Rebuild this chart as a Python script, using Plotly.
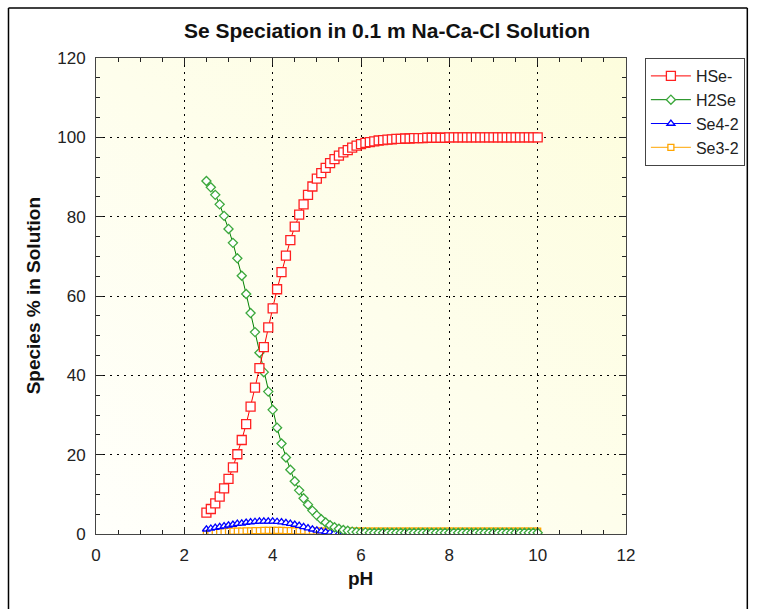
import plotly.graph_objects as go
import base64

ph = [2.5, 2.6, 2.7, 2.8, 2.9, 3.0, 3.1, 3.2, 3.3, 3.4, 3.5, 3.6, 3.7, 3.8, 3.9,
      4.0, 4.1, 4.2, 4.3, 4.4, 4.5, 4.6, 4.7, 4.8, 4.9, 5.0, 5.1, 5.2, 5.3, 5.4,
      5.5, 5.6, 5.7, 5.8, 5.9, 6.0, 6.1, 6.2, 6.3, 6.4, 6.5, 6.6, 6.7, 6.8, 6.9,
      7.0, 7.1, 7.2, 7.3, 7.4, 7.5, 7.6, 7.7, 7.8, 7.9, 8.0, 8.1, 8.2, 8.3, 8.4,
      8.5, 8.6, 8.7, 8.8, 8.9, 9.0, 9.1, 9.2, 9.3, 9.4, 9.5, 9.6, 9.7, 9.8, 9.9, 10.0]

hse = [5.4, 6.3, 7.7, 9.4, 11.5, 13.9, 16.8, 20.1, 23.7, 27.7, 32.1, 36.9, 41.8, 47.1, 52.1,
       56.9, 61.7, 66.0, 70.2, 74.1, 77.5, 80.5, 83.1, 85.5, 87.6, 89.6, 91.0, 92.3, 93.5, 94.5,
       95.4, 96.2, 96.8, 97.4, 97.9, 98.3, 98.6, 98.8, 99.0, 99.2, 99.3, 99.4, 99.5, 99.6, 99.6,
       99.7, 99.7, 99.8, 99.8, 99.8, 99.9, 99.9, 99.9, 99.9, 99.9, 100.0, 100.0, 100.0, 100.0, 100.0,
       100.0, 100.0, 100.0, 100.0, 100.0, 100.0, 100.0, 100.0, 100.0, 100.0, 100.0, 100.0, 100.0, 100.0, 100.0, 100.0]

h2se = [89.0, 87.4, 85.5, 83.1, 80.2, 76.9, 73.4, 69.5, 65.1, 60.5, 55.7, 50.9, 45.7, 40.8, 35.9,
        31.3, 26.8, 22.8, 19.3, 16.2, 13.3, 11.0, 9.0, 7.4, 5.9, 4.7, 3.7, 2.9, 2.2, 1.7,
        1.3, 1.0, 0.8, 0.6, 0.5, 0.4, 0.4, 0.3, 0.3, 0.3, 0.3, 0.3, 0.3, 0.3, 0.3,
        0.3, 0.3, 0.3, 0.3, 0.3, 0.3, 0.3, 0.3, 0.3, 0.3, 0.3, 0.3, 0.3, 0.3, 0.3,
        0.3, 0.3, 0.3, 0.3, 0.3, 0.3, 0.3, 0.3, 0.3, 0.3, 0.3, 0.3, 0.3, 0.3, 0.3, 0.3]

se4 = [1.2, 1.4, 1.6, 1.8, 2.0, 2.2, 2.4, 2.6, 2.7, 2.9, 3.0, 3.1, 3.2, 3.2, 3.2,
       3.2, 3.1, 3.0, 2.8, 2.6, 2.4, 2.1, 1.8, 1.5, 1.2, 0.9, 0.7, 0.5, 0.4, 0.3,
       0.2, 0.1, 0.1, 0.1, 0.1, 0.1, 0.1, 0.1, 0.1, 0.1, 0.1, 0.1, 0.1, 0.1, 0.1,
       0.1, 0.1, 0.1, 0.1, 0.1, 0.1, 0.1, 0.1, 0.1, 0.1, 0.1, 0.1, 0.1, 0.1, 0.1,
       0.1, 0.1, 0.1, 0.1, 0.1, 0.1, 0.1, 0.1, 0.1, 0.1, 0.1, 0.1, 0.1, 0.1, 0.1, 0.1]

se3 = [0.4, 0.45, 0.5, 0.55, 0.6, 0.65, 0.7, 0.7, 0.75, 0.8, 0.8, 0.85, 0.85, 0.9, 0.9,
       0.9, 0.9, 0.9, 0.85, 0.85, 0.8, 0.8, 0.8, 0.75, 0.75, 0.7, 0.7, 0.7, 0.7, 0.7,
       0.7, 0.7, 0.7, 0.7, 0.7, 0.7, 0.7, 0.7, 0.7, 0.7, 0.7, 0.7, 0.7, 0.7, 0.7,
       0.7, 0.7, 0.7, 0.7, 0.7, 0.7, 0.7, 0.7, 0.7, 0.7, 0.7, 0.7, 0.7, 0.7, 0.7,
       0.7, 0.7, 0.7, 0.7, 0.7, 0.7, 0.7, 0.7, 0.7, 0.7, 0.7, 0.7, 0.7, 0.7, 0.7, 0.7]

x_range = [0, 12]
y_range = [0, 120]

W, H = 757, 609
L, R, T, B = 96, 629, 58, 534
pw, ph_ = R - L, B - T


def px(xp):
    return (xp - L) / pw


def py(yp):
    return (B - yp) / ph_


# gradient background as an SVG image below the grid
svg = ('<svg xmlns="http://www.w3.org/2000/svg" width="100" height="100" '
       'preserveAspectRatio="none" viewBox="0 0 100 100">'
       '<defs><linearGradient id="g" x1="0" y1="1" x2="1" y2="0">'
       '<stop offset="0" stop-color="#FFFFFB"/>'
       '<stop offset="1" stop-color="#FDFDDD"/>'
       '</linearGradient></defs>'
       '<rect x="0" y="0" width="100" height="100" fill="url(#g)"/></svg>')
bg_uri = "data:image/svg+xml;base64," + base64.b64encode(svg.encode()).decode()

fig = go.Figure()

series = [
    ("Se3-2", se3, "#FFA500", "#FFA500", "square", 6),
    ("Se4-2", se4, "#0000FF", "#0000FF", "triangle-up", 7),
    ("H2Se", h2se, "#008000", "#3CA83C", "diamond", 7),
    ("HSe-", hse, "#FF0000", "#FF2020", "square", 9),
]
for name, ys, lc, mc, sym, sz in series:
    fig.add_trace(go.Scatter(
        x=ph, y=ys, name=name, mode="lines+markers",
        line=dict(color=lc, width=1),
        marker=dict(symbol=sym, size=sz, color="white",
                    line=dict(color=mc, width=1.3))))

axis_common = dict(
    showline=True, linecolor="#444444", linewidth=1, mirror="allticks",
    ticks="inside", ticklen=7, tickcolor="#222222",
    showgrid=True, gridcolor="#000000", gridwidth=1, griddash="2px,5px",
    zeroline=False,
    tickfont=dict(family="Liberation Sans, Arial", size=17, color="#222222"),
)

fig.update_xaxes(range=x_range, dtick=2, tick0=0,
                 minor=dict(dtick=0.5, ticks="inside", ticklen=4,
                            tickcolor="#222222", showgrid=False),
                 ticklabelstandoff=6, **axis_common)
fig.update_yaxes(range=y_range, dtick=20, tick0=0,
                 minor=dict(dtick=5, ticks="inside", ticklen=4,
                            tickcolor="#222222", showgrid=False),
                 ticklabelstandoff=6, **axis_common)

fig.update_layout(
    width=W, height=H,
    margin=dict(l=L, r=W - R, t=T, b=H - B, pad=0),
    paper_bgcolor="white", plot_bgcolor="#FFFFF2",
    font=dict(family="Liberation Sans, Arial", color="#222222"),
    showlegend=True,
    images=[dict(source=bg_uri, xref="paper", yref="paper", x=0, y=1,
                 sizex=1, sizey=1, xanchor="left", yanchor="top",
                 sizing="stretch", layer="below")],
    legend=dict(x=px(648), y=py(58), xanchor="left", yanchor="top",
                traceorder="reversed", bgcolor="white",
                bordercolor="#444444", borderwidth=1,
                font=dict(family="Liberation Sans, Arial", size=16, color="#222222"),
                tracegroupgap=0, itemwidth=40),
    annotations=[
        dict(text="<b>Se Speciation in 0.1 m Na-Ca-Cl Solution</b>",
             x=px(389), y=py(31), xref="paper", yref="paper",
             showarrow=False, xanchor="center", yanchor="middle",
             font=dict(size=21, color="#111111")),
        dict(text="<b>Species % in Solution</b>",
             x=px(33), y=py(296), xref="paper", yref="paper",
             showarrow=False, xanchor="center", yanchor="middle",
             textangle=-90, font=dict(size=19, color="#111111")),
        dict(text="<b>pH</b>",
             x=px(362), y=py(578), xref="paper", yref="paper",
             showarrow=False, xanchor="center", yanchor="middle",
             font=dict(size=19, color="#111111")),
    ],
    shapes=[
        dict(type="line", xref="paper", yref="paper",
             x0=px(8), x1=px(8), y0=py(8), y1=py(640),
             line=dict(color="#000000", width=1.5)),
        dict(type="line", xref="paper", yref="paper",
             x0=px(8), x1=px(751), y0=py(8), y1=py(8),
             line=dict(color="#000000", width=1.5)),
        dict(type="line", xref="paper", yref="paper",
             x0=px(751), x1=px(751), y0=py(8), y1=py(640),
             line=dict(color="#000000", width=1.5)),
    ],
)

fig.write_html("out.html")
